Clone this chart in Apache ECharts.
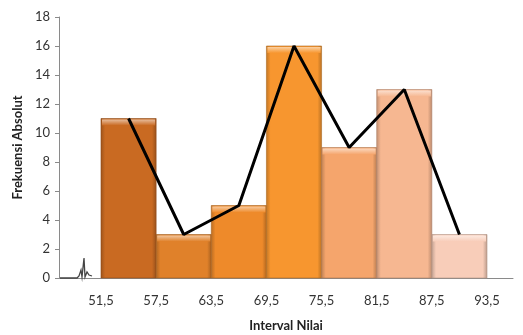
<!DOCTYPE html>
<html>
<head>
<meta charset="utf-8">
<script src="https://cdn.jsdelivr.net/npm/echarts@6/dist/echarts.min.js"></script>
<style>
  html, body { margin: 0; padding: 0; background: #fff; }
  #chart { width: 523px; height: 335px; }
</style>
</head>
<body>
<div id="chart"></div>
<script>
// class boundaries and absolute frequencies
const edges = [51.5, 57.5, 63.5, 69.5, 75.5, 81.5, 87.5, 93.5];
const freq = [11, 3, 5, 16, 9, 13, 3];
const barColors = ['#C96A22', '#E0812A', '#EE8A2A', '#F7962F', '#F5A56C', '#F6B791', '#F8CDB9'];
const yTicks = [0, 2, 4, 6, 8, 10, 12, 14, 16, 18];

const FONT = 'Lato';

const barData = freq.map((f, i) => [edges[i], edges[i + 1], f, i]);
const midpoints = freq.map((f, i) => [(edges[i] + edges[i + 1]) / 2, f]);

function shade(hex, amt) {
    const n = parseInt(hex.slice(1), 16);
    let r = (n >> 16) & 255, g = (n >> 8) & 255, b = n & 255;
    const f = (c) => Math.max(0, Math.min(255, Math.round(amt < 0 ? c * (1 + amt) : c + (255 - c) * amt)));
    return 'rgb(' + f(r) + ',' + f(g) + ',' + f(b) + ')';
}

function renderBar(params, api) {
    const lo = api.value(0), hi = api.value(1), v = api.value(2);
    const c = barColors[api.value(3)];
    const p0 = api.coord([lo, v]);
    const p1 = api.coord([hi, 0]);
    const x = p0[0], y = p0[1], w = p1[0] - p0[0], h = p1[1] - p0[1];
    return {
        type: 'group',
        children: [
            {
                type: 'rect',
                shape: { x: x, y: y, width: w, height: h },
                style: {
                    fill: new echarts.graphic.LinearGradient(0, 0, 1, 0, [
                        { offset: 0, color: shade(c, -0.22) },
                        { offset: 0.08, color: c },
                        { offset: 0.92, color: c },
                        { offset: 1, color: shade(c, -0.25) }
                    ]),
                    stroke: shade(c, -0.3),
                    lineWidth: 0.6
                }
            },
            {
                type: 'rect',
                shape: { x: x + 1, y: y + 1, width: w - 2, height: Math.min(6, h - 1) },
                style: {
                    fill: new echarts.graphic.LinearGradient(0, 0, 0, 1, [
                        { offset: 0, color: shade(c, 0.55) },
                        { offset: 1, color: c }
                    ])
                }
            }
        ]
    };
}

const chart = echarts.init(document.getElementById('chart'));

chart.setOption({
    animation: false,
    backgroundColor: '#fff',
    grid: { left: 59, right: 10, top: 17, bottom: 57, containLabel: false, outerBoundsMode: 'none' },
    xAxis: {
        type: 'value',
        min: 46.93,
        max: 96.33,
        name: 'Interval Nilai',
        nameLocation: 'middle',
        nameGap: 41,
        nameTextStyle: { fontFamily: FONT, fontSize: 13, fontWeight: 'bold', color: '#222' },
        axisLine: { show: true, lineStyle: { color: '#8a8a8a', width: 1 } },
        axisTick: { show: false },
        splitLine: { show: false },
        axisLabel: {
            customValues: edges,
            margin: 16,
            fontFamily: FONT,
            fontSize: 13,
            color: '#333',
            formatter: (v) => String(v).replace('.', ',')
        }
    },
    yAxis: {
        type: 'value',
        min: 0,
        max: 18,
        interval: 2,
        name: 'Frekuensi Absolut',
        nameLocation: 'middle',
        nameGap: 27,
        nameRotate: 90,
        nameTextStyle: { fontFamily: FONT, fontSize: 13, fontWeight: 'bold', color: '#222' },
        axisLine: { show: true, lineStyle: { color: '#8a8a8a', width: 1 } },
        axisTick: { show: true, length: 4, lineStyle: { color: '#8a8a8a' } },
        splitLine: { show: false },
        axisLabel: {
            customValues: yTicks,
            margin: 9,
            fontFamily: FONT,
            fontSize: 13,
            color: '#333'
        }
    },
    series: [
        {
            type: 'custom',
            renderItem: renderBar,
            encode: { x: [0, 1], y: 2 },
            data: barData,
            z: 2
        },
        {
            type: 'line',
            data: midpoints,
            showSymbol: false,
            symbol: 'none',
            lineStyle: { color: '#000', width: 3 },
            z: 5
        }
    ],
    graphic: [
        {
            // axis break mark near the origin
            type: 'polyline',
            shape: {
                points: [[60, 278], [77, 278], [79, 276], [81, 270], [82, 277], [84, 258], [85, 277], [87, 272], [89, 275], [92, 276]]
            },
            style: { stroke: '#444', lineWidth: 1.3, fill: null },
            z: 10
        }
    ]
});
</script>
</body>
</html>
